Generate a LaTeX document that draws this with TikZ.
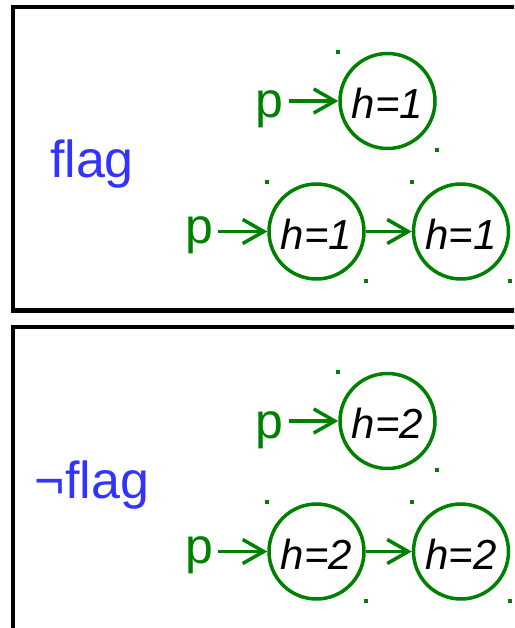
\documentclass[tikz,border=0pt]{standalone}
\usepackage{fontspec}
\setmainfont{Liberation Sans}
\usetikzlibrary{arrows.meta,positioning}
\definecolor{ptrcol}{HTML}{008000}
\definecolor{flagcol}{HTML}{3333FF}

\begin{document}
\begin{tikzpicture}[x=1pt,y=-1pt,
  frame/.style={draw=black,line width=4.5pt},
  hnode/.style={circle,draw=ptrcol,line width=3.5pt,minimum size=95pt,inner sep=0pt,
                text height=35pt,text depth=0pt,font=\fontsize{42}{42}\selectfont\itshape},
  ptr/.style={text=ptrcol,inner sep=0pt,anchor=base west,font=\fontsize{50}{50}\selectfont},
  arr/.style={draw=ptrcol,line width=3.5pt,-{Straight Barb[length=21pt,width=24pt]}},
  corner/.style={fill=ptrcol,minimum size=4pt,inner sep=0pt},
]
\clip (0,0) rectangle (514,628);
\foreach \oy/\hv/\lab in {0/1/flag,320/2/¬flag} {
  \draw[frame] (13,7+\oy) rectangle (540,310.5+\oy);
  \node[text=flagcol,inner sep=0pt,anchor=base,font=\fontsize{52}{52}\selectfont]
    (flag\hv) at (92,178+\oy) {\lab};

  % single node list
  \node[hnode] (a\hv) at (387.5,101+\oy) {h=\hv};
  \node[ptr] (pa\hv) at (255,118+\oy) {p};
  \draw[arr,shorten <=6pt] (pa\hv.east |- a\hv.west) -- (a\hv.west);

  % two node list
  \node[hnode] (b\hv) at (316.5,231.5+\oy) {h=\hv};
  \node[hnode] (c\hv) at (461,231.5+\oy) {h=\hv};
  \node[ptr] (pb\hv) at (185,243+\oy) {p};
  \draw[arr,shorten <=5pt] (pb\hv.east |- b\hv.west) -- (b\hv.west);
  \draw[arr] (b\hv) -- (c\hv);

  \foreach \n in {a\hv,b\hv,c\hv} {
    \node[corner] at (\n.west |- \n.north) {};
    \node[corner] at (\n.east |- \n.south) {};
  }
}
\end{tikzpicture}
\end{document}
